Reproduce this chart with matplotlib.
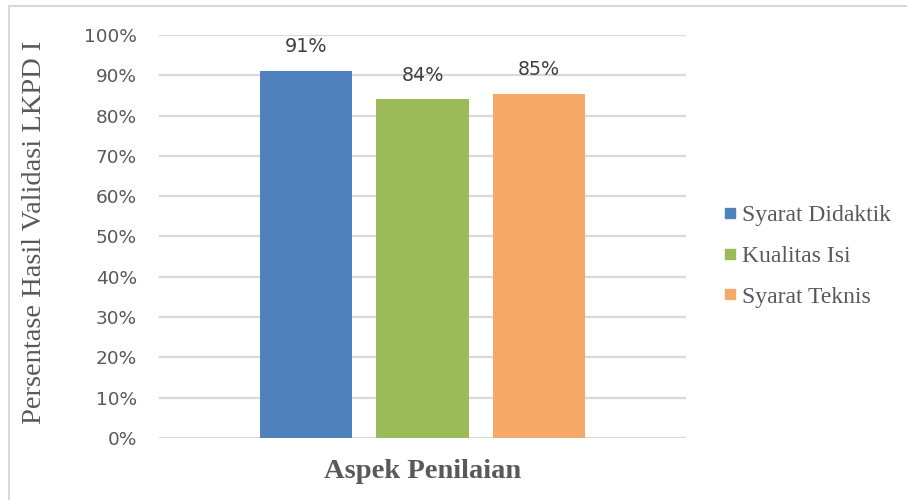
import matplotlib
matplotlib.use("Agg")
import matplotlib.pyplot as plt
from matplotlib.lines import Line2D
from matplotlib.ticker import PercentFormatter, MultipleLocator

# Data
series = ["Syarat Didaktik", "Kualitas Isi", "Syarat Teknis"]
values = [0.911, 0.841, 0.854]
colors = ["#4f81bd", "#9bbb59", "#f7a96a"]
x_label = "Aspek Penilaian"
y_label = "Persentase Hasil Validasi LKPD I"

W, H = 907, 500
fig = plt.figure(figsize=(W / 100, H / 100), dpi=100)
fig.patch.set_facecolor("white")

# Plot area in pixel coordinates
left, right, top, bottom = 159, 686, 35, 438
ax = fig.add_axes([left / W, 1 - bottom / H, (right - left) / W, (bottom - top) / H])

bar_w = 0.1746
step = 0.2205
offsets = [(i - 1) * step for i in range(len(series))]
for off, v, c, name in zip(offsets, values, colors, series):
    ax.bar(off, v, width=bar_w, color=c, label=name, zorder=3)
    ax.text(off, v + 0.036, f"{v:.0%}", ha="center", va="bottom",
            fontsize=13.8, color="#404040", family="DejaVu Sans", zorder=4)

ax.set_xlim(-0.5, 0.5)
ax.set_ylim(0, 1.0)
ax.yaxis.set_major_locator(MultipleLocator(0.1))
ax.yaxis.set_major_formatter(PercentFormatter(1.0, decimals=0))
ax.grid(axis="y", color="#d9d9d9", linewidth=1.6, zorder=0)
ax.set_xticks([])
for s in ax.spines.values():
    s.set_visible(False)
ax.tick_params(axis="y", length=0, pad=16, labelsize=13.3, labelcolor="#595959")
for t in ax.get_yticklabels():
    t.set_family("DejaVu Sans")

ax.set_ylabel(y_label, family="Liberation Serif", fontsize=20.5, color="#595959",
              va="center")
ax.yaxis.set_label_coords(-0.237, 0.51)
ax.set_xlabel(x_label, family="Liberation Serif", fontsize=20.5, fontweight="bold",
              color="#595959", va="center")
ax.xaxis.set_label_coords(0.5, -(472 - bottom) / (bottom - top))

handles = [Line2D([0], [0], marker="s", linestyle="none", markersize=7.5,
                  markerfacecolor=c, markeredgecolor=c) for c in colors]
leg = fig.legend(handles, series, loc="center left", bbox_to_anchor=(697 / W, 1 - 256 / H),
                 frameon=False, handletextpad=0.0, labelspacing=0.82, handlelength=1.0,
                 prop={"family": "Liberation Serif", "size": 17.0})
for t in leg.get_texts():
    t.set_color("#595959")

# Chart area border (top and left edges)
fig.add_artist(Line2D([9 / W, 1], [1 - 6 / H, 1 - 6 / H], color="#d9d9d9", linewidth=1.5,
                      transform=fig.transFigure))
fig.add_artist(Line2D([9 / W, 9 / W], [0, 1 - 6 / H], color="#d9d9d9", linewidth=1.5,
                      transform=fig.transFigure))

fig.savefig("out.png", dpi=100, facecolor="white")
